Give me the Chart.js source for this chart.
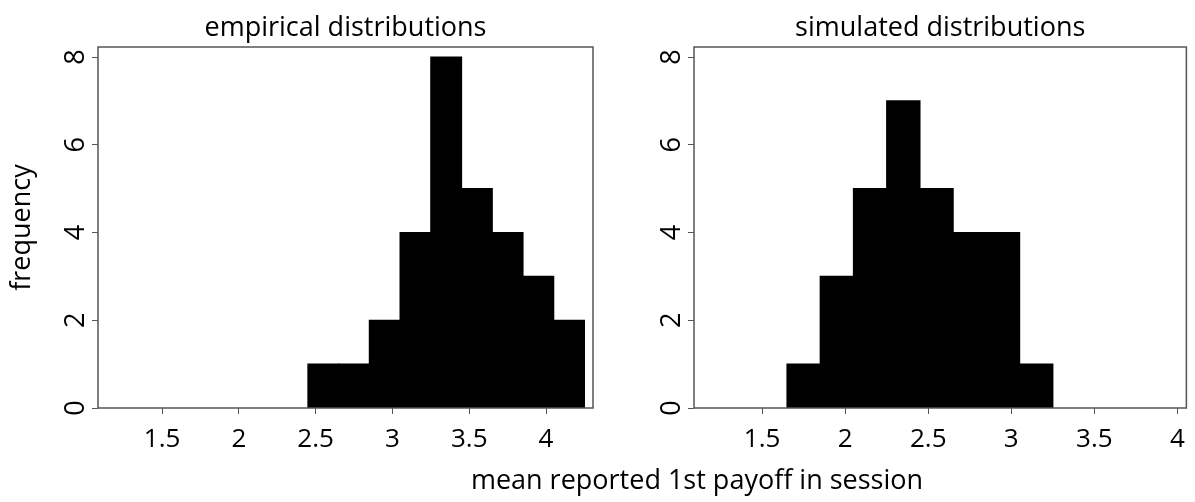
<!DOCTYPE html>
<html>
<head>
<meta charset="utf-8">
<script src="https://cdn.jsdelivr.net/npm/chart.js@4"></script>
<style>
  html, body { margin: 0; padding: 0; background: #fff; }
  #wrap { position: relative; width: 1195px; height: 502px; overflow: hidden; }
  canvas { position: absolute; top: 0; }
  #leftChart { left: 0; }
  #rightChart { left: 600px; }
  #xTitle {
    position: absolute; left: 697px; top: 463px; transform: translateX(-50%);
    font-family: 'Open Sans', sans-serif; font-size: 27px; line-height: 32px;
    color: #000; white-space: nowrap;
  }
</style>
</head>
<body>
<div id="wrap">
  <canvas id="leftChart" width="600" height="502"></canvas>
  <canvas id="rightChart" width="595" height="502"></canvas>
  <div id="xTitle">mean reported 1st payoff in session</div>
</div>
<script>
// histogram bins (bin centres, width 0.2) and counts
const empiricalBins = [2.55, 2.75, 2.95, 3.15, 3.35, 3.55, 3.75, 3.95, 4.15];
const empiricalCounts = [1, 1, 2, 4, 8, 5, 4, 3, 2];

const simulatedBins = [1.75, 1.95, 2.15, 2.35, 2.55, 2.75, 2.95, 3.15];
const simulatedCounts = [1, 3, 5, 7, 5, 4, 4, 1];

const panelTitles = ["empirical distributions", "simulated distributions"];
const yTitle = "frequency";

Chart.defaults.font.family = "'Open Sans', sans-serif";
Chart.defaults.color = "#000";

// draws the box round the plot area
const boxPlugin = {
    id: "plotBox",
    afterDatasetsDraw(chart) {
        const a = chart.chartArea;
        const ctx = chart.ctx;
        ctx.save();
        ctx.strokeStyle = "#555";
        ctx.lineWidth = 1.5;
        ctx.strokeRect(a.left, a.top, a.right - a.left, a.bottom - a.top);
        ctx.restore();
    }
};

function makePanel(canvasId, bins, counts, title, opts) {
    const ctx = document.getElementById(canvasId).getContext("2d");
    return new Chart(ctx, {
        type: "bar",
        data: {
            datasets: [{
                data: bins.map((b, i) => ({ x: b, y: counts[i] })),
                backgroundColor: "#000",
                borderWidth: 0,
                inflateAmount: 0.6,
                barPercentage: 1,
                categoryPercentage: 1
            }]
        },
        options: {
            responsive: false,
            animation: false,
            layout: { padding: { left: 0, right: opts.padRight, top: 0, bottom: 0 } },
            plugins: {
                legend: { display: false },
                tooltip: { enabled: false },
                title: {
                    display: true,
                    text: title,
                    fullSize: false,
                    font: { size: 27, weight: "normal" },
                    padding: { top: 12, bottom: 2.6 }
                }
            },
            scales: {
                x: {
                    type: "linear",
                    offset: false,
                    min: opts.xMin,
                    max: opts.xMax,
                    grid: { offset: false, drawOnChartArea: false, drawTicks: true, tickLength: 6, color: "#555", lineWidth: 1 },
                    border: { display: false },
                    ticks: {
                        stepSize: 0.5, includeBounds: false, maxRotation: 0, autoSkip: false,
                        padding: 10, font: { size: 26 },
                        callback: v => String(v)
                    },
                    afterFit: s => { s.height = 94; }
                },
                y: {
                    min: 0,
                    max: 8.23,
                    grid: { drawOnChartArea: false, drawTicks: true, tickLength: 6, color: "#555", lineWidth: 1 },
                    border: { display: false },
                    ticks: {
                        stepSize: 2, includeBounds: false, minRotation: 90, maxRotation: 90,
                        crossAlign: "center", padding: 8, font: { size: 27 },
                        callback: v => String(v)
                    },
                    title: {
                        display: opts.showYTitle,
                        text: yTitle,
                        font: { size: 27 },
                        padding: { top: 6, bottom: 0 }
                    },
                    afterFit: s => { s.width = opts.yWidth; }
                }
            }
        },
        plugins: [boxPlugin]
    });
}

makePanel("leftChart", empiricalBins, empiricalCounts, panelTitles[0],
    { xMin: 1.083, xMax: 4.306, yWidth: 98, padRight: 7, showYTitle: true });
makePanel("rightChart", simulatedBins, simulatedCounts, panelTitles[1],
    { xMin: 1.09, xMax: 4.054, yWidth: 94, padRight: 6, showYTitle: false });
</script>
</body>
</html>
